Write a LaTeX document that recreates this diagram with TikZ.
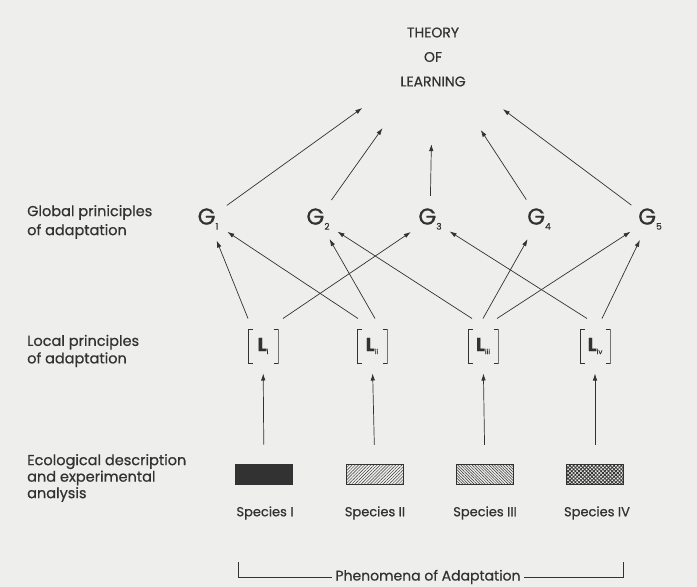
\documentclass[tikz,border=0pt]{standalone}
\usepackage{fontspec}
\setmainfont{Poppins}[FakeBold=0.6]
\usetikzlibrary{arrows.meta,patterns.meta}
\definecolor{paper}{RGB}{238,238,236}
\definecolor{ink}{RGB}{50,50,50}
\newcommand{\gsym}[1]{G\raisebox{-5pt}{\fontsize{9}{9}\selectfont #1}}
\newcommand{\lsym}[1]{\textbf{L}\raisebox{-3pt}{\fontsize{7}{7}\selectfont #1}}
\begin{document}
\begin{tikzpicture}[x=1pt, y=-1pt, every node/.style={text=ink},
    arr/.style={draw=ink, line width=0.7pt, -{Latex[length=7pt,width=4.5pt]}},
    gnode/.style={circle, minimum size=46pt, inner sep=0pt, font=\fontsize{23}{23}\selectfont},
    lnode/.style={minimum width=31pt, minimum height=35pt, inner sep=0pt, outer ysep=10pt,
        font=\fontsize{19}{19}\selectfont,
        path picture={
            \draw[ink, line width=0.6pt] ([xshift=5pt,yshift=-0.5pt]path picture bounding box.north west)
                -| ([xshift=0.5pt,yshift=0.5pt]path picture bounding box.south west) -- ++(4.5pt,0);
            \draw[ink, line width=0.6pt] ([xshift=-5pt,yshift=-0.5pt]path picture bounding box.north east)
                -| ([xshift=-0.5pt,yshift=0.5pt]path picture bounding box.south east) -- ++(-4.5pt,0);
        }},
    speciesbox/.style={draw=ink, line width=0.7pt, minimum width=57pt, minimum height=20pt, inner sep=0pt},
    sidelabel/.style={anchor=west, align=left, inner sep=0pt},
    small/.style={font=\fontsize{13}{15}\selectfont}]

    \useasboundingbox (0,0) rectangle (697,587);
    \fill[paper] (0,0) rectangle (697,587);

    % top
    \node[circle, minimum size=174pt, inner sep=0pt, align=center,
        font=\fontsize{14}{24.5}\selectfont] (theory) at (433,57) {THEORY\\OF\\LEARNING};

    % global principles
    \node[gnode] (g1) at (208,219) {\gsym{1}};
    \node[gnode] (g2) at (318,219) {\gsym{2}};
    \node[gnode] (g3) at (430,219) {\gsym{3}};
    \node[gnode] (g4) at (539,219) {\gsym{4}};
    \node[gnode] (g5) at (650,219) {\gsym{5}};

    % local principles
    \node[lnode] (l1) at (263,346) {\lsym{i}};
    \node[lnode] (l2) at (372,346) {\lsym{ii}};
    \node[lnode] (l3) at (483,346) {\lsym{iii}};
    \node[lnode] (l4) at (595,346) {\lsym{iv}};

    % species
    \node[speciesbox, fill=ink] (s1) at (264,474) {};
    \node[speciesbox, pattern={Lines[angle=45,distance=2.2pt,line width=0.45pt]}, pattern color=ink] (s2) at (375,474) {};
    \node[speciesbox, pattern={Lines[angle=-45,distance=2pt,line width=0.5pt]}, pattern color=ink] (s3) at (485,474) {};
    \node[speciesbox, pattern={Hatch[angle=45,distance=2.6pt,line width=0.8pt]}, pattern color=ink] (s4) at (595,474) {};

    \node[small] (n1) at (265,513) {Species I};
    \node[small] (n2) at (375,513) {Species II};
    \node[small] (n3) at (485,513) {Species III};
    \node[small] (n4) at (597,513) {Species IV};

    % left column
    \node[sidelabel, font=\fontsize{14.5}{19}\selectfont] (glob) at (27,222) {Global priniciples\\of adaptation};
    \node[sidelabel, font=\fontsize{14.5}{17.5}\selectfont] (loc) at (27,351) {Local principles\\of adaptation};
    \node[sidelabel, font=\fontsize{14.5}{16.5}\selectfont] (eco) at (27,478) {Ecological description\\and experimental\\analysis};

    % bracket
    \node[font=\fontsize{14}{16}\selectfont, inner sep=3pt] (phen) at (428,577) {Phenomena of Adaptation};
    \coordinate (bl) at (238,562);
    \coordinate (br) at (623,562);
    \draw[ink, line width=0.6pt] (bl) |- (phen);
    \draw[ink, line width=0.6pt] (br) |- (phen);

    \draw[arr] (g1) -- (theory);
    \draw[arr] (g2) -- (theory);
    \draw[arr] (g3) -- (theory);
    \draw[arr] (g4) -- (theory);
    \draw[arr] (g5) -- (theory);

    \draw[arr] ([xshift=-15pt]l1.north) -- (g1);
    \draw[arr] ([xshift=20pt]l1.north) -- (g3);
    \draw[arr] ([xshift=-14pt]l2.north) -- (g1);
    \draw[arr] ([xshift=3pt]l2.north) -- (g2);
    \draw[arr] ([xshift=-11pt]l3.north) -- (g2);
    \draw[arr] (l3.north) -- (g4);
    \draw[arr] ([xshift=14pt]l3.north) -- (g5);
    \draw[arr] ([xshift=-8pt]l4.north) -- (g3);
    \draw[arr] ([xshift=7pt]l4.north) -- (g5);

    \draw[arr, shorten <=19pt] (s1) -- (l1);
    \draw[arr, shorten <=19pt] (s2) -- (l2);
    \draw[arr, shorten <=19pt] (s3) -- (l3);
    \draw[arr, shorten <=19pt] (s4) -- (l4);
\end{tikzpicture}
\end{document}
